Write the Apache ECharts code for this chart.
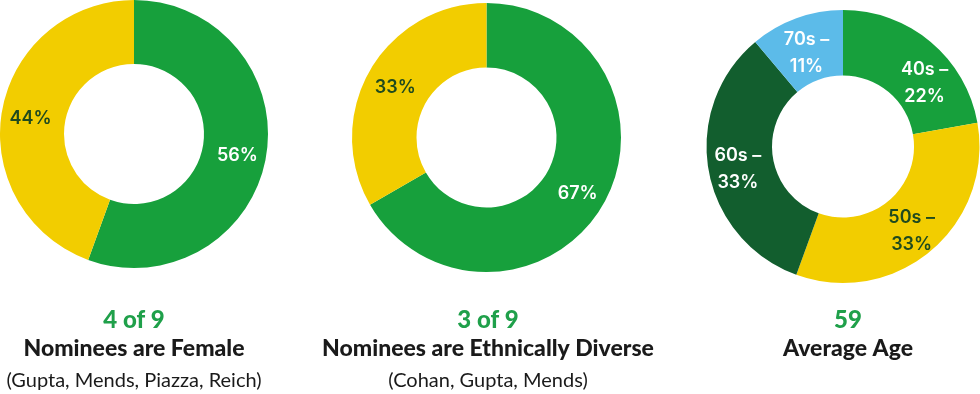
<!DOCTYPE html>
<html><head><meta charset="utf-8">
<script src="https://cdn.jsdelivr.net/npm/echarts@6/dist/echarts.min.js"></script>
<style>html,body{margin:0;padding:0;background:#fff}#c{width:980px;height:394px}</style>
</head><body><div id="c"></div>
<script>
// ---- data ----
const genderLabels = ['Male', 'Female'];
const genderCounts = [5, 4];           // green 56%, yellow 44%
const diversityNames = ['Not diverse', 'Ethnically diverse'];
const diversityCounts = [6, 3];        // green 67%, yellow 33%
const ageNames = ['40s', '50s', '60s', '70s'];
const ageCounts = [2, 3, 3, 1];
const headlines = ['4 of 9', '3 of 9', '59'];
const captions = ['Nominees are Female', 'Nominees are Ethnically Diverse', 'Average Age'];
const subCaptions = ['(Gupta, Mends, Piazza, Reich)', '(Cohan, Gupta, Mends)', ''];

// ---- styles ----
const GREEN = '#17a03c', YELLOW = '#f2cd00', DKGREEN = '#125e2e', BLUE = '#5cbbe9';
const DARKTXT = '#1f4a1e';
const pieFont = 'Inter, "Noto Sans", sans-serif';
const capFont = 'Lato, "Open Sans", sans-serif';

function pct(p) { return Math.round(p) + '%'; }

function mkData(names, counts, colors, txtColors, offsets) {
  return names.map((n, i) => ({
    name: n, value: counts[i],
    itemStyle: { color: colors[i] },
    label: { color: txtColors[i], offset: offsets ? offsets[i] : [0, 3] }
  }));
}

const baseSeries = {
  type: 'pie', startAngle: 90, clockwise: true, silent: true,
  avoidLabelOverlap: false,
  labelLine: { show: false },
  label: { show: true, position: 'inside', fontFamily: pieFont, fontWeight: 600, fontSize: 18 },
  itemStyle: { borderWidth: 0 },
  emphasis: { disabled: true }
};

const option = {
  animation: false,
  series: [
    Object.assign({}, baseSeries, {
      center: [134, 134], radius: [70, 134],
      label: Object.assign({}, baseSeries.label, { formatter: p => pct(p.percent) }),
      data: mkData(genderLabels, genderCounts, [GREEN, YELLOW], ['#fff', DARKTXT])
    }),
    Object.assign({}, baseSeries, {
      center: [486.5, 137.5], radius: [70, 134.5],
      label: Object.assign({}, baseSeries.label, { formatter: p => pct(p.percent) }),
      data: mkData(diversityNames, diversityCounts, [GREEN, YELLOW], ['#fff', DARKTXT])
    }),
    Object.assign({}, baseSeries, {
      center: [843, 146.5], radius: [71, 136.5],
      label: Object.assign({}, baseSeries.label, { lineHeight: 26.5, formatter: p => p.name + ' \u2013\n' + pct(p.percent) }),
      data: mkData(ageNames, ageCounts, [GREEN, YELLOW, DKGREEN, BLUE], ['#fff', DARKTXT, '#fff', '#fff'], [[13, 18.5], [0, 3], [0, 4], [0, 7]])
    })
  ],
  graphic: []
};

const cx = [134, 488, 848];
headlines.forEach((h, i) => {
  option.graphic.push({ type: 'text', x: cx[i], y: 320, silent: true,
    style: { text: h, fill: '#1fa04a', font: '900 24px ' + capFont, textAlign: 'center', textVerticalAlign: 'middle' } });
  option.graphic.push({ type: 'text', x: cx[i], y: 349, silent: true,
    style: { text: captions[i], fill: '#1a1a1a', font: '900 23px ' + capFont, textAlign: 'center', textVerticalAlign: 'middle' } });
  if (subCaptions[i]) option.graphic.push({ type: 'text', x: cx[i], y: 381, silent: true,
    style: { text: subCaptions[i], fill: '#1a1a1a', font: '20px ' + capFont, textAlign: 'center', textVerticalAlign: 'middle' } });
});

const chart = echarts.init(document.getElementById('c'), null, { renderer: 'canvas' });
chart.setOption(option);
</script>
</body></html>
